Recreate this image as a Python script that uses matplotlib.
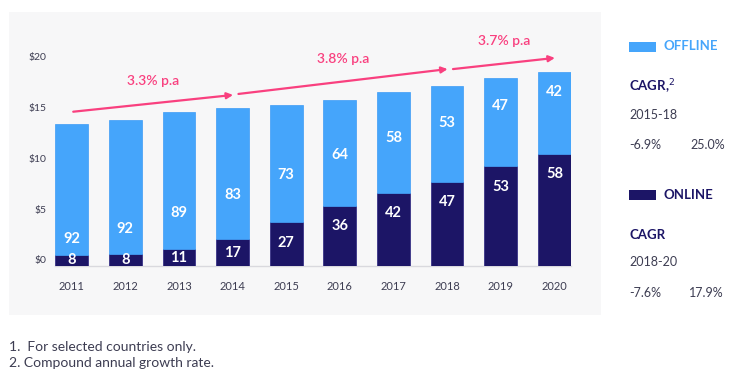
import matplotlib.pyplot as plt
import matplotlib.transforms as mtransforms
from matplotlib.patches import Rectangle
import numpy as np

years = ['2011', '2012', '2013', '2014', '2015', '2016', '2017', '2018', '2019', '2020']
totals = [14.0, 14.4, 15.2, 15.6, 15.9, 16.4, 17.1, 17.7, 18.5, 19.1]
online_pct = [8, 8, 11, 17, 27, 36, 42, 47, 53, 58]
offline_pct = [92, 92, 89, 83, 73, 64, 58, 53, 47, 42]
y_ticks = [0, 5, 10, 15, 20]
growth = [(0, 3, '3.3% p.a'), (3, 7, '3.8% p.a'), (7, 9, '3.7% p.a')]
footnotes = ['1.  For selected countries only.', '2. Compound annual growth rate.']

OFFLINE = '#45a5fb'
ONLINE = '#1c1566'
PINK = '#f9407f'
TEXT = '#3d3d52'

plt.rcParams['font.family'] = ['Lato', 'DejaVu Sans']

W, H = 746, 374
fig = plt.figure(figsize=(W / 100, H / 100), dpi=100)


def px(x, y):
    return x / W, 1 - y / H


# grey panel behind the chart
fig.patches.append(Rectangle(px(9, 315), 592 / W, 303 / H, transform=fig.transFigure,
                             facecolor='#f7f7f8', edgecolor='none', zorder=-10))

ax = fig.add_axes([55 / W, 1 - 266 / H, (571 - 55) / W, 236 / H])
ax.set_facecolor('none')
ax.set_zorder(1)

x = np.arange(len(years))
totals = np.array(totals)
online = totals * np.array(online_pct) / 100
offline = totals * np.array(offline_pct) / 100

ax.bar(x, online, width=0.61, color=ONLINE, edgecolor='#2a2380', linewidth=0.5, zorder=3)
ax.bar(x, offline, width=0.61, bottom=online, color=OFFLINE, edgecolor='#3d9cf5',
       linewidth=0.5, zorder=3)

# value labels
frac = np.linspace(0.12, 0.76, len(years))
for i in range(len(years)):
    y_on = max(online[i] / 2, online[i] - 2.0)
    ax.text(x[i], y_on, str(online_pct[i]), ha='center', va='center', color='white',
            fontsize=10.5, fontweight='bold', zorder=4)
    y_off = online[i] + offline[i] * frac[i]
    ax.text(x[i], y_off, str(offline_pct[i]), ha='center', va='center', color='white',
            fontsize=10.5, fontweight='bold', zorder=4)

# growth arrows
lifts = [(1.2, 1.25), (1.35, 1.7), (1.7, 1.4)]
for (i0, i1, label), (l0, l1) in zip(growth, lifts):
    x0 = i0 + (0.03 if i0 == 0 else 0.11)
    x1 = i1 + 0.01
    y0 = totals[i0] + l0
    y1 = totals[i1] + l1
    ax.annotate('', xy=(x1, y1), xytext=(x0, y0),
                arrowprops=dict(arrowstyle='-|>', color=PINK, lw=1.6,
                                mutation_scale=9, shrinkA=0, shrinkB=0), zorder=5)
    ax.annotate(label, xy=((x0 + x1) / 2, (y0 + y1) / 2), xytext=(0, 16),
                textcoords='offset points', ha='center', va='center',
                color=PINK, fontsize=10, fontweight='semibold', zorder=5)

ax.set_xlim(-0.31, len(years) - 1 + 0.31)
ax.set_ylim(0, 23.25)
ax.set_xticks(x)
ax.set_xticklabels(years, fontsize=8, color=TEXT)
ax.set_yticks(y_ticks)
ax.set_yticklabels([f'${v}' for v in y_ticks], fontsize=7.5, color=TEXT)
ax.tick_params(axis='both', length=0)
ax.tick_params(axis='x', pad=11)
ax.tick_params(axis='y', pad=6)
offset = mtransforms.ScaledTranslation(0, 6 / 100, fig.dpi_scale_trans)
for lab in ax.get_yticklabels():
    lab.set_transform(lab.get_transform() + offset)

for side in ['top', 'right', 'left']:
    ax.spines[side].set_visible(False)
ax.spines['bottom'].set_color('#d9d9de')
ax.spines['bottom'].set_linewidth(1)

# right-hand legend panel
fig.patches.append(Rectangle(px(629, 52), 27 / W, 10 / H, transform=fig.transFigure,
                             facecolor=OFFLINE, edgecolor='none'))
fig.text(*px(663, 46), 'OFFLINE', color=OFFLINE, fontsize=9.5, fontweight='bold', va='center')
fig.text(*px(629, 87), 'CAGR,$^2$', color=ONLINE, fontsize=9.5, fontweight='bold', va='center')
fig.text(*px(629, 115), '2015-18', color=TEXT, fontsize=9, va='center')
fig.text(*px(629, 145), '-6.9%', color=TEXT, fontsize=9, va='center')
fig.text(*px(690, 145), '25.0%', color=TEXT, fontsize=9, va='center')

fig.patches.append(Rectangle(px(629, 200), 27 / W, 10 / H, transform=fig.transFigure,
                             facecolor=ONLINE, edgecolor='none'))
fig.text(*px(663, 195), 'ONLINE', color=ONLINE, fontsize=9.5, fontweight='bold', va='center')
fig.text(*px(629, 235), 'CAGR', color=ONLINE, fontsize=9.5, fontweight='bold', va='center')
fig.text(*px(629, 262), '2018-20', color=TEXT, fontsize=9, va='center')
fig.text(*px(629, 293), '-7.6%', color=TEXT, fontsize=9, va='center')
fig.text(*px(689, 293), '17.9%', color=TEXT, fontsize=9, va='center')

# footnotes
for k, note in enumerate(footnotes):
    fig.text(*px(9, 347 + 16 * k), note, color=TEXT, fontsize=10, va='center')

fig.savefig('out.png', dpi=100, facecolor='white')
